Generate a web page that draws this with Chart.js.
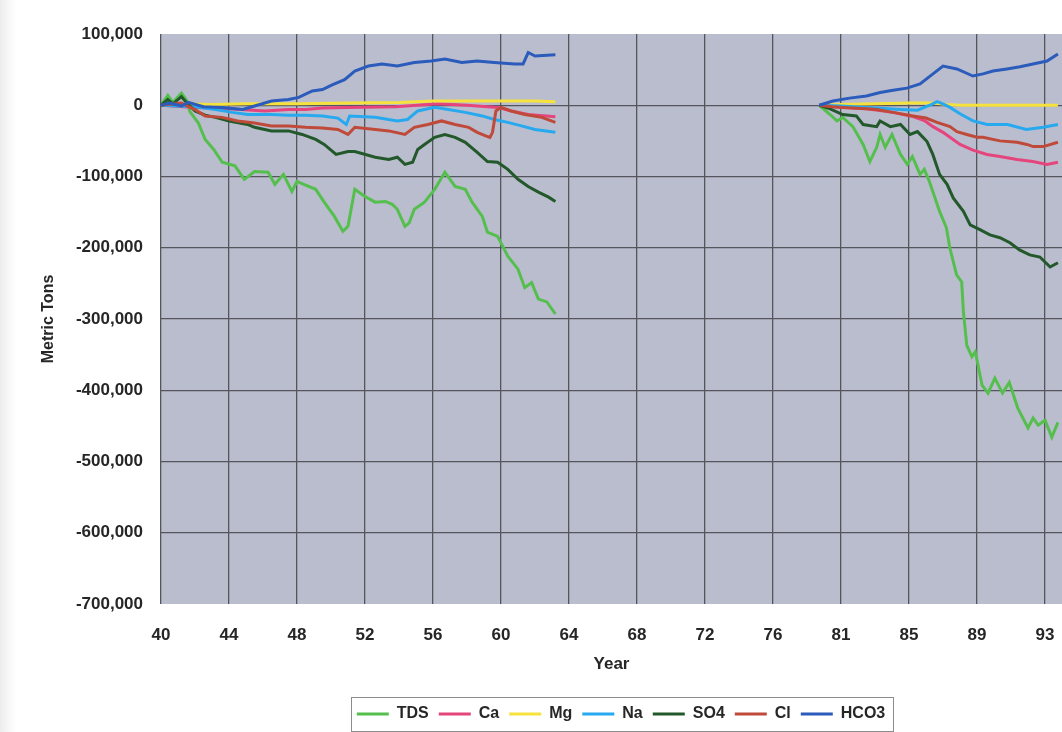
<!DOCTYPE html>
<html>
<head>
<meta charset="utf-8">
<title>Metric Tons by Year</title>
<script src="https://cdn.jsdelivr.net/npm/chart.js@4.4.1/dist/chart.umd.min.js"></script>
<style>
  html, body { margin: 0; padding: 0; }
  body {
    width: 1062px; height: 732px; overflow: hidden;
    background: linear-gradient(to right, #ececec 0px, #f6f6f6 8px, #ffffff 16px, #ffffff 100%);
  }
  canvas { display: block; }
</style>
</head>
<body>
<canvas id="chart" width="1062" height="732"></canvas>
<script>
// Year labels shown under the vertical grid lines (note the jump from 76 to 81)
const tickYears = [40, 44, 48, 52, 56, 60, 64, 68, 72, 76, 81, 85, 89, 93];

// Cumulative change in metric tons, [year, tons]; first record 1940-1963, second 1979-1994
const tdsEarly = [[40,0],[40.4,14000],[40.7,4000],[41.2,17000],[41.5,7000],[41.7,-9000],[42.2,-25000],[42.6,-48000],[43.1,-62000],[43.6,-80000],[44.35,-85000],[44.9,-104000],[45.5,-93000],[46.3,-94000],[46.7,-111000],[47.2,-97000],[47.7,-121000],[48.0,-107000],[48.4,-111000],[49.1,-118000],[49.6,-136000],[50.2,-156000],[50.7,-177000],[51.0,-170000],[51.4,-118000],[52.0,-128000],[52.6,-136000],[53.2,-135000],[53.6,-139000],[53.9,-146000],[54.35,-170000],[54.6,-165000],[54.9,-146000],[55.5,-136000],[56.1,-118000],[56.7,-94000],[57.0,-104000],[57.3,-114000],[57.9,-118000],[58.3,-136000],[58.9,-156000],[59.2,-178000],[59.8,-184000],[60.4,-212000],[61.0,-230000],[61.4,-256000],[61.8,-249000],[62.2,-272000],[62.7,-276000],[63.2,-293000]];
const tdsLate = [[79.4,0],[80.2,-13000],[80.7,-22000],[81.1,-17000],[81.7,-30000],[82.3,-55000],[82.7,-79000],[83.1,-59000],[83.3,-41000],[83.6,-59000],[84.0,-41000],[84.5,-69000],[84.9,-83000],[85.2,-72000],[85.65,-97000],[85.9,-90000],[86.2,-107000],[86.4,-121000],[86.8,-149000],[87.2,-172000],[87.4,-200000],[87.8,-238000],[88.1,-248000],[88.2,-290000],[88.4,-337000],[88.7,-353000],[88.9,-346000],[89.3,-393000],[89.65,-404000],[90.05,-383000],[90.5,-404000],[90.9,-389000],[91.4,-425000],[92.0,-453000],[92.3,-439000],[92.6,-449000],[93.0,-442000],[93.4,-466000],[93.76,-445000]];

const caEarly = [[40,0],[42,-3000],[44,-5000],[46.1,-8000],[47.5,-6000],[48.5,-6000],[49.5,-4000],[51.0,-3000],[53.8,-2000],[56.3,2000],[58.0,0],[59.8,-3000],[60.6,-8000],[61.6,-13000],[63.2,-16000]];
const caLate = [[79.4,0],[80.4,-2000],[82.5,-5000],[84.06,-10000],[85.24,-16000],[85.94,-22000],[86.41,-30000],[87.0,-38000],[87.41,-45000],[88.0,-55000],[88.76,-63000],[89.59,-69000],[90.35,-72000],[91.35,-76000],[92.29,-79000],[93.12,-83000],[93.76,-80000]];

const mgEarly = [[40,0],[41,2000],[43,1000],[45,2000],[48,2000],[51,3000],[54,4000],[56,6000],[58,6000],[60,6000],[62,6000],[63.2,5000]];
const mgLate = [[79.4,0],[81,1000],[83,2000],[85,3000],[86.5,3000],[87.2,1000],[88,0],[90,0],[92,0],[93.76,0]];

const naEarly = [[40,0],[42,-2000],[43.2,-6000],[44.2,-10000],[45.1,-13000],[46.5,-13000],[47.5,-14000],[48.5,-14000],[49.5,-15000],[50.4,-18000],[50.9,-27000],[51.1,-15000],[52.6,-17000],[53.9,-22000],[54.5,-20000],[55.1,-8000],[56.1,-3000],[56.9,-6000],[57.9,-10000],[58.9,-15000],[59.6,-20000],[60.4,-24000],[61.2,-29000],[62.0,-34000],[63.2,-38000]];
const naLate = [[79.4,0],[81,-1000],[83,-4000],[84.5,-6000],[85.5,-7000],[86.3,1000],[86.65,5000],[87.0,2000],[87.41,-3000],[88.0,-12000],[88.76,-22000],[89.6,-27000],[90.8,-27000],[91.9,-34000],[92.9,-31000],[93.76,-27000]];

const so4Early = [[40,0],[40.4,8000],[40.7,2000],[41.2,12000],[41.5,4000],[42.0,-8000],[42.6,-14000],[43.2,-17000],[44.0,-22000],[45.1,-27000],[45.5,-31000],[46.5,-36000],[47.5,-36000],[48.3,-41000],[49.1,-48000],[49.6,-55000],[50.3,-69000],[51.0,-65000],[51.4,-65000],[52.6,-73000],[53.4,-76000],[53.9,-73000],[54.35,-83000],[54.8,-80000],[55.1,-62000],[55.5,-55000],[56.1,-45000],[56.7,-41000],[57.3,-45000],[57.9,-52000],[58.6,-66000],[59.2,-79000],[59.8,-80000],[60.4,-90000],[61.0,-104000],[61.6,-114000],[62.2,-122000],[62.8,-129000],[63.2,-135000]];
const so4Late = [[79.4,0],[80.2,-5000],[81.1,-13000],[81.9,-15000],[82.3,-27000],[83.1,-30000],[83.3,-22000],[83.9,-30000],[84.5,-27000],[85.06,-41000],[85.5,-37000],[86.06,-51000],[86.4,-69000],[86.8,-97000],[87.24,-111000],[87.6,-130000],[88.2,-149000],[88.6,-168000],[89.2,-175000],[89.76,-182000],[90.35,-186000],[90.94,-193000],[91.5,-203000],[92.1,-210000],[92.7,-213000],[93.3,-227000],[93.76,-221000]];

const clEarly = [[40,0],[41.2,3000],[42.0,-6000],[42.6,-15000],[43.6,-17000],[44.5,-22000],[45.5,-25000],[46.5,-29000],[47.5,-29000],[48.5,-31000],[49.5,-32000],[50.4,-34000],[51.0,-41000],[51.4,-31000],[52.6,-34000],[53.4,-36000],[54.35,-41000],[54.9,-31000],[55.7,-27000],[56.5,-22000],[57.3,-27000],[58.1,-31000],[58.6,-38000],[59.1,-43000],[59.35,-45000],[59.5,-38000],[59.7,-8000],[60.0,-3000],[60.6,-8000],[61.4,-13000],[62.4,-17000],[63.2,-24000]];
const clLate = [[79.4,0],[80.4,-2000],[81.1,-3000],[82.5,-5000],[83.1,-6000],[84.06,-10000],[85.24,-15000],[86.0,-18000],[86.65,-24000],[87.41,-30000],[87.82,-37000],[88.4,-41000],[89.0,-45000],[89.35,-45000],[90.35,-50000],[91.35,-52000],[91.94,-55000],[92.3,-58000],[92.9,-58000],[93.76,-52000]];

const hco3Early = [[40,0],[40.5,3000],[41.2,-1000],[41.6,4000],[42.5,-2000],[43.6,-3000],[44.8,-6000],[45.5,-1000],[46.5,6000],[47.5,8000],[48.1,11000],[48.9,20000],[49.5,22000],[50.1,29000],[50.8,36000],[51.4,48000],[52.2,55000],[53.0,58000],[53.9,55000],[54.9,60000],[55.9,62000],[56.7,65000],[57.7,60000],[58.6,62000],[59.6,60000],[60.8,58000],[61.3,58000],[61.6,74000],[62.0,69000],[63.2,71000]];
const hco3Late = [[79.4,0],[80.4,6000],[81.5,10000],[82.5,13000],[83.3,18000],[84.06,21000],[84.88,24000],[85.65,30000],[86.41,44000],[87.0,55000],[87.82,51000],[88.76,41000],[89.35,44000],[89.94,48000],[90.76,51000],[91.53,54000],[92.29,58000],[93.12,62000],[93.76,72000]];

const seriesNames = ['TDS', 'Ca', 'Mg', 'Na', 'SO4', 'Cl', 'HCO3'];
const seriesColors = ['#55bf4e', '#e5457c', '#f6e23c', '#27a9ef', '#22582a', '#bf4a39', '#2b5bbb'];
const seriesData = [
  [tdsEarly, tdsLate], [caEarly, caLate], [mgEarly, mgLate], [naEarly, naLate],
  [so4Early, so4Late], [clEarly, clLate], [hco3Early, hco3Late]
];

// Grid index for a year; each step between labelled years is one grid cell
function yearPos(year) {
  const n = tickYears.length;
  if (year >= tickYears[n - 1]) return (n - 1) + (year - tickYears[n - 1]) / 4;
  for (let i = 0; i < n - 1; i++) {
    if (year <= tickYears[i + 1]) {
      return i + (year - tickYears[i]) / (tickYears[i + 1] - tickYears[i]);
    }
  }
  return 0;
}

function toPoints(early, late) {
  return [
    ...early.map(([yr, t]) => ({ x: yearPos(yr), y: t })),
    { x: yearPos(70), y: null },
    ...late.map(([yr, t]) => ({ x: yearPos(yr), y: t }))
  ];
}

const datasets = seriesNames.map((name, i) => ({
  label: name,
  data: toPoints(seriesData[i][0], seriesData[i][1]),
  borderColor: seriesColors[i],
  backgroundColor: seriesColors[i],
  borderWidth: 3,
  pointRadius: 0,
  tension: 0,
  spanGaps: false,
  // later series are painted over earlier ones
  order: seriesNames.length - 1 - i
}));

const FONT = '"Liberation Sans", Arial, Helvetica, sans-serif';
const TEXT = '#262626';

// Lavender plot background
const plotBackground = {
  id: 'plotBackground',
  beforeDraw(chart) {
    const { ctx, chartArea: a } = chart;
    ctx.save();
    ctx.fillStyle = '#babdce';
    ctx.fillRect(a.left, a.top, a.right - a.left, a.bottom - a.top);
    ctx.restore();
  }
};

// Legend sits under the plot, shifted right, inside a thin frame
const legendFrame = {
  id: 'legendFrame',
  afterLayout(chart) {
    const lg = chart.legend;
    if (lg) { lg.left += 90; lg.right += 90; }
  },
  afterDraw(chart) {
    const lg = chart.legend;
    if (!lg || !lg.legendHitBoxes || !lg.legendHitBoxes.length) return;
    const boxes = lg.legendHitBoxes;
    let l = Infinity, r = -Infinity, t = Infinity, b = -Infinity;
    boxes.forEach(h => {
      l = Math.min(l, h.left); r = Math.max(r, h.left + h.width);
      t = Math.min(t, h.top); b = Math.max(b, h.top + h.height);
    });
    const cy = (t + b) / 2;
    const ctx = chart.ctx;
    ctx.save();
    ctx.strokeStyle = '#8c8c8c';
    ctx.lineWidth = 1;
    ctx.strokeRect(Math.round(l - 6) + 0.5, Math.round(cy - 17) + 0.5, Math.round(r - l + 14), 34);
    ctx.restore();
  }
};

new Chart(document.getElementById('chart'), {
  type: 'line',
  data: { datasets },
  plugins: [plotBackground, legendFrame],
  options: {
    responsive: false,
    animation: false,
    events: [],
    layout: { padding: { left: 0, right: 0, top: 34, bottom: 0 } },
    plugins: {
      tooltip: { enabled: false },
      legend: {
        position: 'bottom',
        labels: {
          usePointStyle: true,
          pointStyle: 'line',
          pointStyleWidth: 32,
          boxHeight: 14,
          padding: 10,
          color: TEXT,
          font: { family: FONT, size: 16, weight: 'bold' },
          sort: (a, b) => a.datasetIndex - b.datasetIndex
        }
      }
    },
    scales: {
      x: {
        type: 'linear',
        min: 0,
        max: 13.25,
        afterBuildTicks(scale) {
          // one grid line per labelled year
          scale.ticks = tickYears.map((_, i) => ({ value: i }));
        },
        afterFit(scale) {
          scale.height = 92;
          scale.paddingLeft = 0;
          scale.paddingRight = 0;
        },
        ticks: {
          autoSkip: false,
          maxRotation: 0,
          padding: 21,
          color: TEXT,
          font: { family: FONT, size: 17, weight: 'bold' },
          callback: v => (tickYears[v] !== undefined ? String(tickYears[v]) : '')
        },
        grid: { color: '#55555c', lineWidth: 1.3, drawTicks: false },
        border: { display: false },
        title: {
          display: true,
          text: 'Year',
          color: TEXT,
          font: { family: FONT, size: 17, weight: 'bold' },
          padding: { top: 0, bottom: 21 }
        }
      },
      y: {
        min: -700000,
        max: 100000,
        afterFit(scale) { scale.width = 161; },
        ticks: {
          stepSize: 100000,
          padding: 18,
          color: TEXT,
          font: { family: FONT, size: 17, weight: 'bold' },
          callback: v => Number(v).toLocaleString('en-US')
        },
        grid: {
          color: c => (c.tick && (c.tick.value === 100000 || c.tick.value === -700000)) ? 'rgba(0,0,0,0)' : '#55555c',
          lineWidth: 1.3,
          drawTicks: false
        },
        border: { display: false },
        title: {
          display: true,
          text: 'Metric Tons',
          color: TEXT,
          font: { family: FONT, size: 16, weight: 'bold' },
          padding: { top: 39, bottom: 0 }
        }
      }
    }
  }
});
</script>
</body>
</html>
